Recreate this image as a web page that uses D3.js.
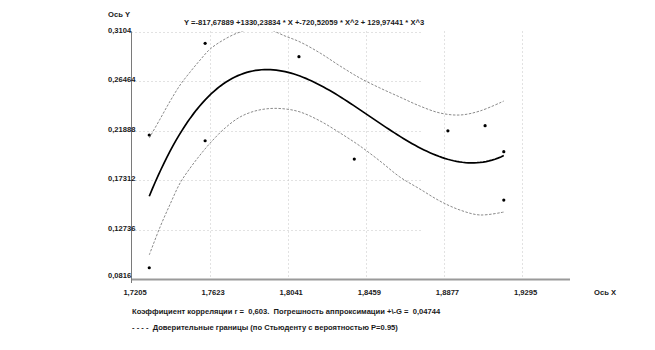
<!DOCTYPE html>
<html>
<head>
<meta charset="utf-8">
<script src="https://cdn.jsdelivr.net/npm/d3@7"></script>
<style>
  html, body { margin: 0; padding: 0; background: #fff; }
  svg text { font-family: "Liberation Sans", Arial, sans-serif; fill: #1a1a1a; white-space: pre; }
</style>
</head>
<body>
<svg id="chart" width="655" height="350"></svg>
<script>
// Observations
const obsX = [1.7300, 1.7300, 1.7599, 1.7599, 1.8101, 1.8397, 1.8898, 1.9097, 1.9197, 1.9197];
const obsY = [0.2147, 0.0920, 0.2995, 0.2094, 0.2871, 0.1925, 0.2186, 0.2233, 0.1993, 0.1546];

// Cubic regression: Y = c0 + c1*X + c2*X^2 + c3*X^3
const coeffs = [-817.67889, 1330.23834, -720.52059, 129.97441];

// Confidence band (Student, P=0.95)
const bandX = [1.7300, 1.7358, 1.7412, 1.7465, 1.7519, 1.7572, 1.7626, 1.7706, 1.7786, 1.7866, 1.7946,
               1.8027, 1.8107, 1.8214, 1.8321, 1.8427, 1.8534, 1.8641, 1.8748, 1.8855, 1.8962, 1.9069, 1.9197];
const bandUpper = [0.2119, 0.2295, 0.2461, 0.2609, 0.2730, 0.2840, 0.2942, 0.3035, 0.3099, 0.3127, 0.3118,
                   0.3062, 0.3007, 0.2905, 0.2785, 0.2674, 0.2582, 0.2498, 0.2415, 0.2351, 0.2332, 0.2369, 0.2461];
const bandLower = [0.1038, 0.1297, 0.1509, 0.1703, 0.1842, 0.1962, 0.2073, 0.2212, 0.2314, 0.2369, 0.2392,
                   0.2388, 0.2360, 0.2277, 0.2166, 0.2046, 0.1907, 0.1759, 0.1648, 0.1537, 0.1454, 0.1408, 0.1435];

// Axis ticks
const xTicks = [1.7205, 1.7623, 1.8041, 1.8459, 1.8877, 1.9295];
const xTickLabels = ["1,7205", "1,7623", "1,8041", "1,8459", "1,8877", "1,9295"];
const yTicks = [0.0816, 0.12736, 0.17312, 0.21888, 0.26464, 0.3104];
const yTickLabels = ["0,0816", "0,12736", "0,17312", "0,21888", "0,26464", "0,3104"];

const equationText = "Y =-817,67889 +1330,23834 * X +-720,52059 * X^2 + 129,97441 * X^3";
const statsText = "Коэффициент корреляции r =  0,603.  Погрешность аппроксимации +\\-G =  0,04744";
const legendText = "- - - -  Доверительные границы (по Стьюденту с вероятностью P=0.95)";

// Layout
const plotLeft = 131.5, plotRight = 522.1, plotTop = 31.5, plotBottom = 279;
const axisEndX = 570, hGridEndX = 422;
const fontSize = 7.6;

const svg = d3.select("#chart");
svg.append("rect").attr("width", 655).attr("height", 350).attr("fill", "#fff");

const x = d3.scaleLinear().domain([xTicks[0], xTicks[xTicks.length - 1]]).range([plotLeft, plotRight]);
const y = d3.scaleLinear().domain([yTicks[0], yTicks[yTicks.length - 1]]).range([plotBottom, plotTop]);

svg.append("defs").append("clipPath").attr("id", "plot")
  .append("rect").attr("x", plotLeft).attr("y", plotTop)
  .attr("width", axisEndX - plotLeft).attr("height", plotBottom - plotTop);

// Grid
const grid = svg.append("g").attr("stroke", "#c4c4c4").attr("stroke-width", 1).attr("stroke-dasharray", "1,3");
grid.selectAll("line.h").data(yTicks.slice(1)).join("line")
  .attr("x1", plotLeft).attr("x2", hGridEndX)
  .attr("y1", d => Math.round(y(d)) + 0.5).attr("y2", d => Math.round(y(d)) + 0.5);
grid.selectAll("line.v").data(xTicks.slice(1)).join("line")
  .attr("x1", d => Math.round(x(d)) + 0.5).attr("x2", d => Math.round(x(d)) + 0.5)
  .attr("y1", plotTop).attr("y2", plotBottom);

// Axes
const xAxis = d3.axisBottom(x).tickValues([]).tickSize(0).tickSizeOuter(0);
svg.append("g").attr("transform", `translate(0,${plotBottom + 0.5})`).call(xAxis)
  .call(g => g.select(".domain").attr("d", `M${plotLeft},0H${axisEndX}`).attr("stroke", "#9a9a9a").attr("stroke-width", 2));
const yAxis = d3.axisLeft(y).tickValues([]).tickSize(0).tickSizeOuter(0);
svg.append("g").attr("transform", `translate(${plotLeft},0)`).call(yAxis)
  .call(g => g.select(".domain").attr("d", `M0,${plotTop}V${plotBottom + 4}`).attr("stroke", "#7a7a7a").attr("stroke-width", 1));

// Tick labels
svg.append("g").selectAll("text").data(xTicks).join("text")
  .attr("x", d => x(d) + 3.5).attr("y", 294.5)
  .attr("text-anchor", "middle").attr("font-size", fontSize).attr("font-weight", "bold")
  .text((d, i) => xTickLabels[i]);
svg.append("g").selectAll("text").data(yTicks).join("text")
  .attr("x", 108).attr("y", (d, i) => i === 0 ? y(d) - 1.5 : y(d) + 1)
  .attr("font-size", fontSize).attr("font-weight", "bold")
  .text((d, i) => yTickLabels[i]);

// Axis titles and captions
svg.append("text").attr("x", 108).attr("y", 17).attr("font-size", fontSize).attr("font-weight", "bold").text("Ось Y");
svg.append("text").attr("x", 594).attr("y", 294.5).attr("font-size", fontSize).attr("font-weight", "bold").text("Ось X");
svg.append("text").attr("x", 184).attr("y", 24.5).attr("font-size", fontSize).attr("font-weight", "bold").text(equationText);
svg.append("text").attr("x", 132).attr("y", 314).attr("font-size", fontSize).attr("font-weight", "bold").text(statsText);
svg.append("text").attr("x", 132).attr("y", 330).attr("font-size", fontSize).attr("font-weight", "bold").text(legendText);

// Confidence band
const bandLine = d3.line().curve(d3.curveCatmullRom.alpha(0.5));
const plot = svg.append("g").attr("clip-path", "url(#plot)");
[bandUpper, bandLower].forEach(vals => {
  plot.append("path")
    .attr("d", bandLine(bandX.map((bx, i) => [x(bx), y(vals[i])])))
    .attr("fill", "none").attr("stroke", "#8a8a8a").attr("stroke-width", 1)
    .attr("stroke-dasharray", "2.5,1.5");
});

// Regression curve across the observed X range
const [xMin, xMax] = d3.extent(obsX);
const poly = X => coeffs.reduce((s, c, k) => s + c * Math.pow(X, k), 0);
const curvePts = d3.range(0, 121).map(i => {
  const X = xMin + (xMax - xMin) * i / 120;
  return [x(X), y(poly(X))];
});
plot.append("path").attr("d", d3.line()(curvePts))
  .attr("fill", "none").attr("stroke", "#000").attr("stroke-width", 1.7);

// Points
svg.append("g").selectAll("circle").data(obsX).join("circle")
  .attr("cx", d => x(d)).attr("cy", (d, i) => y(obsY[i])).attr("r", 1.6).attr("fill", "#000");
</script>
</body>
</html>
